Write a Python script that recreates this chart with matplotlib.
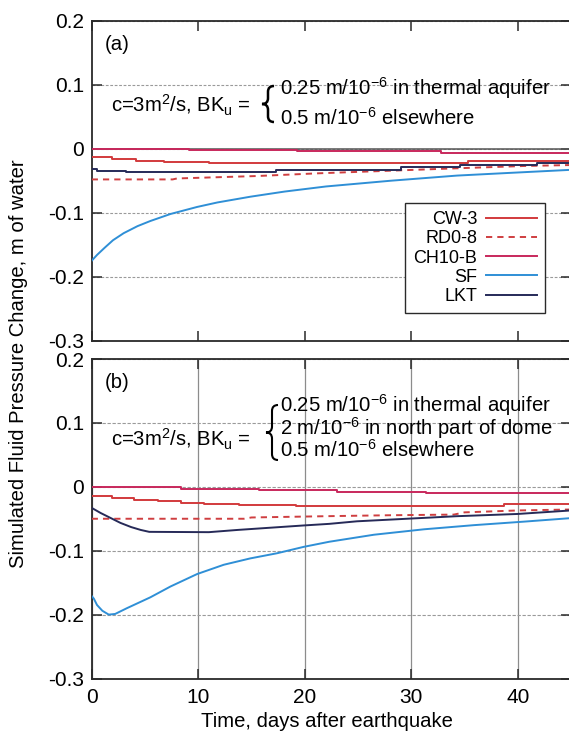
import matplotlib
matplotlib.use("Agg")
import matplotlib.pyplot as plt
from matplotlib.path import Path
from matplotlib.patches import PathPatch
from matplotlib.transforms import Affine2D

plt.rcParams['font.family'] = ['Liberation Sans', 'DejaVu Sans']
plt.rcParams['mathtext.fontset'] = 'custom'
plt.rcParams['mathtext.rm'] = 'Liberation Sans'
plt.rcParams['mathtext.it'] = 'Liberation Sans:italic'
plt.rcParams['mathtext.bf'] = 'Liberation Sans:bold'

# ---------------- data ----------------
x_ticks = [0, 10, 20, 30, 40]
y_ticks = [-0.3, -0.2, -0.1, 0.0, 0.1, 0.2]
y_tick_labels = ["-0.3", "-0.2", "-0.1", "0", "0.1", "0.2"]
wells = ["CW-3", "RD0-8", "CH10-B", "SF", "LKT"]

# panel (a): stepped series given as change days and levels
a_cw3_days = [0, 1.9, 4.2, 6.8, 11.0, 35.3, 45]
a_cw3_vals = [-0.0135, -0.016, -0.019, -0.0213, -0.0224, -0.0192]
a_ch10_days = [0, 9.1, 19.3, 32.8, 45]
a_ch10_vals = [0.0, -0.0015, -0.0036, -0.0063]
a_lkt_days = [0, 0.5, 3.2, 17.3, 29.0, 34.6, 41.8, 45]
a_lkt_vals = [-0.032, -0.0345, -0.037, -0.034, -0.029, -0.0255, -0.0225]
a_rd0_days = [0, 7.6, 8.0, 15.5, 21.2, 28.0, 34.3, 40.6, 45]
a_rd0_vals = [-0.048, -0.048, -0.0465, -0.0427, -0.0385, -0.0344, -0.0306, -0.027, -0.0255]
a_sf_days = [0, 0.5, 1.2, 2.0, 3.0, 4.3, 5.5, 7.4, 9.9, 11.8, 14.9, 18.1, 22.0, 28.1, 34.3, 39.0, 45]
a_sf_vals = [-0.175, -0.166, -0.155, -0.143, -0.132, -0.121, -0.113, -0.102, -0.091, -0.084,
             -0.075, -0.067, -0.059, -0.050, -0.042, -0.038, -0.033]

# panel (b)
b_cw3_days = [0, 1.9, 4.0, 6.2, 8.4, 10.5, 13.8, 19.2, 38.7, 45]
b_cw3_vals = [-0.0148, -0.0174, -0.020, -0.0227, -0.0253, -0.027, -0.029, -0.0305, -0.0273]
b_ch10_days = [0, 8.4, 15.7, 23.0, 31.4, 45]
b_ch10_vals = [-0.001, -0.003, -0.0055, -0.008, -0.0097]
b_lkt_days = [0, 0.84, 1.8, 2.7, 3.7, 4.6, 5.4, 11.0, 13.7, 16.8, 19.9, 22.3, 24.9, 29.6, 34.3, 40.0, 45]
b_lkt_vals = [-0.033, -0.041, -0.049, -0.0565, -0.063, -0.0675, -0.0705, -0.071, -0.0675,
              -0.064, -0.0605, -0.058, -0.054, -0.050, -0.046, -0.0425, -0.037]
b_rd0_days = [0, 14.3, 15.0, 22.0, 28.0, 34.0, 35.0, 40.0, 45]
b_rd0_vals = [-0.050, -0.050, -0.048, -0.046, -0.0445, -0.0435, -0.040, -0.037, -0.0355]
b_sf_days = [0, 0.2, 0.5, 1.0, 1.6, 2.2, 3.3, 5.5, 7.4, 9.9, 12.4, 14.9, 17.4, 19.9, 22.3,
             26.5, 31.2, 35.9, 40.6, 45]
b_sf_vals = [-0.171, -0.175, -0.185, -0.194, -0.200, -0.199, -0.190, -0.173, -0.156, -0.1365,
             -0.122, -0.112, -0.104, -0.094, -0.086, -0.075, -0.0665, -0.060, -0.0545, -0.049]

# ---------------- style ----------------
C_CW3 = "#d23a3c"
C_RD0 = "#cf3e40"
C_CH10 = "#c8285c"
C_SF = "#2f8fd6"
C_LKT = "#262a58"
SPINE = "#2a2a2a"
GRID = "#9a9a9a"
FS = 14.6
FS_TICK = 15
LW = 1.4

W, H = 569, 733
fig = plt.figure(figsize=(W / 100, H / 100), dpi=100)


def px_axes(left, top, right, bottom):
    return fig.add_axes([left / W, 1 - bottom / H, (right - left) / W, (bottom - top) / H])


ax_a = px_axes(91.7, 20.7, 571.0, 340.7)
ax_b = px_axes(91.7, 359.0, 571.0, 678.5)


def steps(days, vals):
    return days, list(vals) + [vals[-1]]


def style_axes(ax, show_xlabels):
    ax.set_xlim(0, 45)
    ax.set_ylim(-0.3, 0.2)
    ax.set_xticks(x_ticks)
    ax.set_yticks(y_ticks)
    ax.set_yticklabels(y_tick_labels)
    if not show_xlabels:
        ax.set_xticklabels([])
    ax.tick_params(direction="in", length=7, width=1.1, color=SPINE,
                   top=True, right=True, labelsize=FS_TICK)
    ax.tick_params(axis="y", pad=5.5)
    ax.tick_params(axis="x", pad=6.5)
    for s in ax.spines.values():
        s.set_color(SPINE)
        s.set_linewidth(1.3)
    ax.set_axisbelow(True)


def draw_series(ax, cw3, rd0, ch10, sf, lkt):
    d, v = steps(*cw3)
    ax.step(d, v, where="post", color=C_CW3, lw=LW, label=wells[0], zorder=3)
    ax.plot(rd0[0], rd0[1], color=C_RD0, lw=LW, ls=(0, (3.2, 2.6)), label=wells[1], zorder=3)
    d, v = steps(*ch10)
    ax.step(d, v, where="post", color=C_CH10, lw=LW, label=wells[2], zorder=3)
    ax.plot(sf[0], sf[1], color=C_SF, lw=LW, label=wells[3], zorder=3)
    if len(lkt[0]) == len(lkt[1]) + 1:
        d, v = steps(*lkt)
        ax.step(d, v, where="post", color=C_LKT, lw=LW, label=wells[4], zorder=3)
    else:
        ax.plot(lkt[0], lkt[1], color=C_LKT, lw=LW, label=wells[4], zorder=3)


# panel (a)
style_axes(ax_a, False)
ax_a.grid(axis="y", color=GRID, lw=0.8, ls=(0, (2.5, 1.5)))
ax_a.axhline(0, color="#555555", lw=1.1, zorder=2)
draw_series(ax_a, (a_cw3_days, a_cw3_vals), (a_rd0_days, a_rd0_vals),
            (a_ch10_days, a_ch10_vals), (a_sf_days, a_sf_vals), (a_lkt_days, a_lkt_vals))

leg = ax_a.legend(loc="upper right", bbox_to_anchor=(0.9457, 0.430), borderaxespad=0,
                  fontsize=13, markerfirst=False, handlelength=2.8, handletextpad=0.5,
                  labelspacing=0.12, borderpad=0.45, fancybox=False, framealpha=1,
                  edgecolor=SPINE)
leg.get_frame().set_linewidth(1.0)

# panel (b)
style_axes(ax_b, True)
ax_b.grid(axis="y", color=GRID, lw=0.8, ls=(0, (3, 1.5)))
ax_b.grid(axis="x", color="#8c8c8c", lw=0.9)
draw_series(ax_b, (b_cw3_days, b_cw3_vals), (b_rd0_days, b_rd0_vals),
            (b_ch10_days, b_ch10_vals), (b_sf_days, b_sf_vals), (b_lkt_days, b_lkt_vals))

# ---------------- annotations (figure pixel coordinates) ----------------
pix = Affine2D().scale(1 / W, -1 / H).translate(0, 1) + fig.transFigure


def ptext(x, y, s, **kw):
    kw.setdefault("fontsize", FS)
    kw.setdefault("va", "baseline")
    kw.setdefault("ha", "left")
    return fig.text(x, y, s, transform=pix, **kw)


def brace(xt, xe, yt, yb, lw):
    xc = (xt + xe) / 2
    ym = (yt + yb) / 2
    r = min((yb - yt) * 0.16, 6)
    verts = [(xe, yt), (xc, yt), (xc, yt + r),
             (xc, ym - r),
             (xc, ym), (xt, ym),
             (xc, ym), (xc, ym + r),
             (xc, yb - r),
             (xc, yb), (xe, yb)]
    codes = [Path.MOVETO, Path.CURVE3, Path.CURVE3,
             Path.LINETO,
             Path.CURVE3, Path.CURVE3,
             Path.CURVE3, Path.CURVE3,
             Path.LINETO,
             Path.CURVE3, Path.CURVE3]
    fig.patches.append(PathPatch(Path(verts, codes), transform=pix, fill=False,
                                 lw=lw, color="black", capstyle="butt"))


lhs = r"c=3m$^2$/s, BK$_\mathrm{u}$ ="
line_thermal = r"0.25 m/10$^{-6}$ in thermal aquifer"
line_dome = r"2 m/10$^{-6}$ in north part of dome"
line_else = r"0.5 m/10$^{-6}$ elsewhere"

ptext(105, 45, "(a)", va="center")
ptext(111, 112, lhs)
brace(262, 274, 86, 122, 1.8)
ptext(280, 95, line_thermal)
ptext(280, 125, line_else)

ptext(105, 383, "(b)", va="center")
ptext(111, 447, lhs)
brace(266, 278, 405, 460, 1.5)
# the multi-line block is anchored on the baseline of its last line
ptext(280, 457, "\n".join([line_thermal, line_dome, line_else]), linespacing=0.88)

ptext(19, 363.5, "Simulated Fluid Pressure Change, m of water",
      rotation=90, va="center", ha="center")
ptext(327, 721.7, "Time, days after earthquake", va="center", ha="center")

fig.savefig("out.png", dpi=100)
